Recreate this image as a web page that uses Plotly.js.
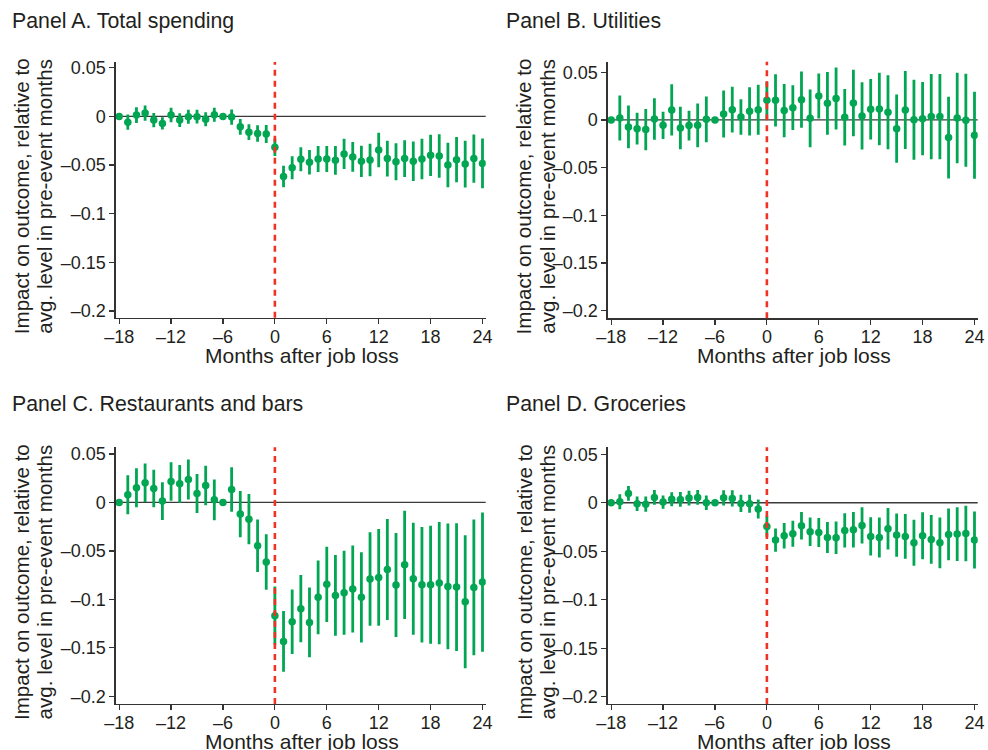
<!DOCTYPE html>
<html>
<head>
<meta charset="utf-8">
<script src="https://cdn.plot.ly/plotly-3.0.1.min.js"></script>
<style>html,body{margin:0;padding:0;background:#fff;}#chart{width:988px;height:750px;}</style>
</head>
<body>
<div id="chart"></div>
<script>
// Months relative to job loss
const months = [-18,-17,-16,-15,-14,-13,-12,-11,-10,-9,-8,-7,-6,-5,-4,-3,-2,-1,0,1,2,3,4,5,6,7,8,9,10,11,12,13,14,15,16,17,18,19,20,21,22,23,24];

// Panel A. Total spending
const totalEst = [0,-0.0059,0.0014,0.0034,-0.0038,-0.0072,0.0014,-0.0038,-0.0003,-0.0003,-0.0030,0.0017,0,-0.0007,-0.0107,-0.0162,-0.0176,-0.0181,-0.0318,-0.0617,-0.0528,-0.0441,-0.0472,-0.0438,-0.0438,-0.0452,-0.0386,-0.0417,-0.0462,-0.0448,-0.0345,-0.0434,-0.0466,-0.0434,-0.0462,-0.0438,-0.0400,-0.0407,-0.0500,-0.0445,-0.0490,-0.0434,-0.0483];
const totalCI = [0,0.0078,0.0081,0.0078,0.0074,0.0062,0.0074,0.0071,0.0072,0.0071,0.0072,0.0072,0,0.0079,0.0081,0.0081,0.0084,0.0093,0.0090,0.0110,0.0119,0.0124,0.0126,0.0134,0.0133,0.0148,0.0155,0.0153,0.0160,0.0166,0.0178,0.0184,0.0191,0.0190,0.0203,0.0207,0.0212,0.0224,0.0229,0.0233,0.0240,0.0248,0.0255];

// Panel B. Utilities
const utilEst = [0,0.0021,-0.0073,-0.0091,-0.0101,0.0010,-0.0056,0.0105,-0.0084,-0.0059,-0.0056,0.0007,0,0.0063,0.0108,0.0031,0.0091,0.0108,0.0206,0.0206,0.0098,0.0129,0.0213,0.0017,0.0252,0.0175,0.0224,0.0028,0.0178,0.0042,0.0112,0.0115,0.0080,-0.0091,0.0105,0.0003,0.0014,0.0035,0.0035,-0.0185,0.0021,-0.0003,-0.0161];
const utilCI = [0,0.0236,0.0224,0.0166,0.0217,0.0217,0.0143,0.0269,0.0222,0.0156,0.0229,0.0240,0,0.0247,0.0240,0.0187,0.0253,0.0262,0.0195,0.0274,0.0278,0.0234,0.0295,0.0302,0.0236,0.0329,0.0325,0.0297,0.0348,0.0353,0.0318,0.0379,0.0388,0.0358,0.0409,0.0420,0.0383,0.0446,0.0448,0.0428,0.0474,0.0488,0.0456];

// Panel C. Restaurants and bars
const restEst = [0,0.0079,0.0151,0.0203,0.0144,0.0014,0.0216,0.0192,0.0237,0.0093,0.0175,0.0027,0,0.0134,-0.0120,-0.0172,-0.0447,-0.0614,-0.1168,-0.1433,-0.1230,-0.1096,-0.1237,-0.0979,-0.0845,-0.0959,-0.0931,-0.0893,-0.0979,-0.0790,-0.0773,-0.0691,-0.0852,-0.0643,-0.0787,-0.0849,-0.0849,-0.0832,-0.0866,-0.0873,-0.1024,-0.0876,-0.0821];
const restCI = [0,0.0201,0.0201,0.0198,0.0194,0.0194,0.0198,0.0194,0.0206,0.0201,0.0204,0.0210,0,0.0230,0.0239,0.0259,0.0271,0.0287,0.0300,0.0314,0.0333,0.0347,0.0359,0.0380,0.0388,0.0416,0.0433,0.0448,0.0466,0.0483,0.0500,0.0521,0.0536,0.0558,0.0577,0.0596,0.0608,0.0630,0.0649,0.0658,0.0687,0.0701,0.0718];

// Panel D. Groceries
const grocEst = [0,0.0010,0.0096,-0.0010,-0.0014,0.0055,0.0007,0.0037,0.0034,0.0048,0.0055,0,0,0.0051,0.0045,-0.0007,-0.0010,-0.0065,-0.0244,-0.0385,-0.0340,-0.0320,-0.0237,-0.0299,-0.0306,-0.0358,-0.0361,-0.0285,-0.0278,-0.0234,-0.0347,-0.0358,-0.0268,-0.0333,-0.0347,-0.0413,-0.0340,-0.0378,-0.0413,-0.0326,-0.0323,-0.0317,-0.0385];
const grocCI = [0,0.0078,0.0076,0.0074,0.0079,0.0076,0.0069,0.0072,0.0076,0.0076,0.0076,0.0074,0,0.0079,0.0084,0.0089,0.0093,0.0098,0.0110,0.0120,0.0131,0.0134,0.0141,0.0146,0.0150,0.0160,0.0167,0.0177,0.0182,0.0187,0.0198,0.0206,0.0215,0.0223,0.0230,0.0237,0.0243,0.0251,0.0261,0.0266,0.0278,0.0285,0.0294];

// Tick labels
const xTickVals = [-18,-12,-6,0,6,12,18,24];
const xTickText = ['\u201318','\u201312','\u20136','0','6','12','18','24'];
const yTickVals = [0.05,0,-0.05,-0.1,-0.15,-0.2];
const yTickText = ['0.05','0','\u20130.05','\u20130.1','\u20130.15','\u20130.2'];

const panelTitles = ['Panel A. Total spending','Panel B. Utilities','Panel C. Restaurants and bars','Panel D. Groceries'];
const xTitle = 'Months after job loss';
const yTitle1 = 'Impact on outcome, relative to';
const yTitle2 = 'avg. level in pre-event months';

const W = 988, H = 750;
const GREEN = '#00A651';
const RED = '#EE3224';
const AX = '#333333';

const series = [
  {est: totalEst, ci: totalCI},
  {est: utilEst, ci: utilCI},
  {est: restEst, ci: restCI},
  {est: grocEst, ci: grocCI}
];

// pixel geometry of each panel: left, right, top, bottom
const geo = [
  {l:115.7, r:485.7, t:62.0, b:317.7, yr:[-0.2069, 0.0559]},
  {l:607.7, r:977.7, t:61.7, b:318.3, yr:[-0.2080, 0.0611]},
  {l:115.7, r:485.7, t:447.3, b:704.0, yr:[-0.2079, 0.0569]},
  {l:607.7, r:977.7, t:447.3, b:704.0, yr:[-0.2075, 0.0572]}
];
const xRange = [-18.4, 24.37];

const traces = [];
const layout = {
  width: W, height: H,
  margin: {l:0, r:0, t:0, b:0},
  paper_bgcolor: '#ffffff', plot_bgcolor: '#ffffff',
  showlegend: false,
  font: {family: 'Liberation Sans, Arial, Helvetica, sans-serif', size: 18, color: '#231f20'},
  shapes: [], annotations: []
};

geo.forEach((g, i) => {
  const n = i === 0 ? '' : String(i + 1);
  traces.push({
    type: 'scatter', mode: 'markers',
    x: months, y: series[i].est,
    xaxis: 'x' + n, yaxis: 'y' + n,
    marker: {color: GREEN, size: 7.5},
    error_y: {type: 'data', array: series[i].ci, visible: true, color: GREEN, thickness: 2.8, width: 0},
    hoverinfo: 'x+y'
  });
  const common = {
    showgrid: false, zeroline: false, showline: true, linecolor: AX, linewidth: 1.3,
    ticks: 'outside', ticklen: 5, tickwidth: 1.2, tickcolor: AX,
    tickfont: {size: 18, color: '#231f20'}, fixedrange: true
  };
  layout['xaxis' + n] = Object.assign({}, common, {
    domain: [g.l / W, g.r / W], anchor: 'y' + n, range: xRange,
    tickmode: 'array', tickvals: xTickVals, ticktext: xTickText,
    ticklabelstandoff: -3
  });
  layout['yaxis' + n] = Object.assign({}, common, {
    domain: [1 - g.b / H, 1 - g.t / H], anchor: 'x' + n, range: g.yr,
    tickmode: 'array', tickvals: yTickVals, ticktext: yTickText
  });
  layout.shapes.push({
    type: 'line', xref: 'x' + n + ' domain', yref: 'y' + n,
    x0: 0, x1: 1, y0: 0, y1: 0, layer: 'below',
    line: {color: '#3a3a3a', width: 1.3}
  });
  layout.shapes.push({
    type: 'line', xref: 'x' + n, yref: 'y' + n + ' domain',
    x0: 0, x1: 0, y0: 0, y1: 1, layer: 'above',
    line: {color: RED, width: 2.6, dash: '6px,5px'}
  });
  const left = (i % 2 === 0);
  const top = (i < 2);
  // panel title
  layout.annotations.push({
    text: panelTitles[i], xref: 'paper', yref: 'paper', showarrow: false,
    x: (left ? 9.5 : 504) / W, y: 1 - (top ? 21.0 : 404.4) / H,
    xanchor: 'left', yanchor: 'middle', font: {size: 21.3, color: '#231f20'}
  });
  // x axis title
  layout.annotations.push({
    text: xTitle, xref: 'paper', yref: 'paper', showarrow: false,
    x: ((g.l + g.r) / 2 + 1.5) / W, y: 1 - (g.b + 37.5) / H,
    xanchor: 'center', yanchor: 'middle', font: {size: 21, color: '#231f20'}
  });
  // y axis title, two lines
  const off = left ? 0 : 503;
  const yc = (g.t + g.b) / 2 + 6;
  layout.annotations.push({
    text: yTitle1, xref: 'paper', yref: 'paper', showarrow: false, textangle: -90,
    x: (21.4 + off) / W, y: 1 - yc / H, xanchor: 'center', yanchor: 'middle',
    font: {size: 20.6, color: '#231f20'}
  });
  layout.annotations.push({
    text: yTitle2, xref: 'paper', yref: 'paper', showarrow: false, textangle: -90,
    x: (44.8 + off) / W, y: 1 - yc / H, xanchor: 'center', yanchor: 'middle',
    font: {size: 20.6, color: '#231f20'}
  });
});

Plotly.newPlot('chart', traces, layout, {displayModeBar: false, staticPlot: true});
</script>
</body>
</html>
